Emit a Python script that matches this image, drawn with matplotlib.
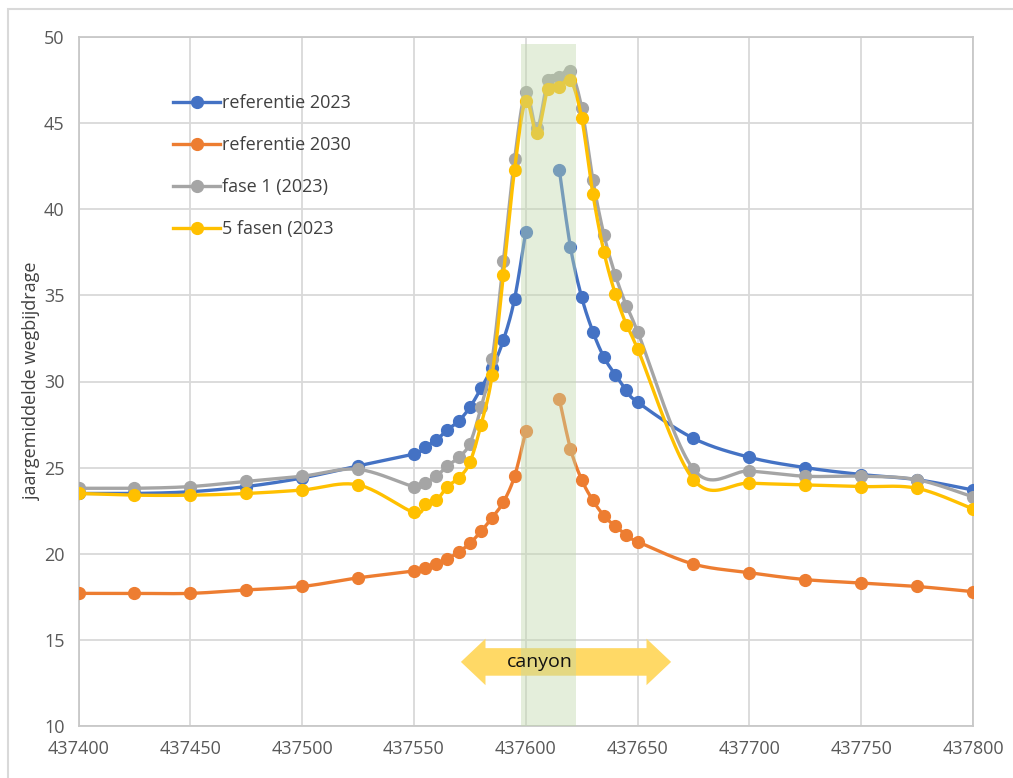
import numpy as np
import matplotlib
matplotlib.use("Agg")
import matplotlib.pyplot as plt
from matplotlib.lines import Line2D
from matplotlib.patches import Polygon, Rectangle

nan = np.nan

x = [437400, 437425, 437450, 437475, 437500, 437525, 437550, 437555, 437560, 437565,
     437570, 437575, 437580, 437585, 437590, 437595, 437600, 437605, 437610, 437615,
     437620, 437625, 437630, 437635, 437640, 437645, 437650, 437675, 437700, 437725,
     437750, 437775, 437800]

ref_2023 = [23.5, 23.5, 23.6, 23.9, 24.4, 25.1, 25.8, 26.2, 26.6, 27.2,
            27.7, 28.5, 29.6, 30.8, 32.4, 34.8, 38.7, nan, nan, 42.3,
            37.8, 34.9, 32.9, 31.4, 30.4, 29.5, 28.8, 26.7, 25.6, 25.0,
            24.6, 24.3, 23.7]
ref_2030 = [17.7, 17.7, 17.7, 17.9, 18.1, 18.6, 19.0, 19.2, 19.4, 19.7,
            20.1, 20.6, 21.3, 22.1, 23.0, 24.5, 27.1, nan, nan, 29.0,
            26.1, 24.3, 23.1, 22.2, 21.6, 21.1, 20.7, 19.4, 18.9, 18.5,
            18.3, 18.1, 17.8]
fase1 = [23.8, 23.8, 23.9, 24.2, 24.5, 24.9, 23.9, 24.1, 24.5, 25.1,
         25.6, 26.4, 28.5, 31.3, 37.0, 42.9, 46.8, 44.7, 47.5, 47.7,
         48.0, 45.9, 41.7, 38.5, 36.2, 34.4, 32.9, 24.9, 24.8, 24.5,
         24.5, 24.3, 23.3]
fasen5 = [23.5, 23.4, 23.4, 23.5, 23.7, 24.0, 22.4, 22.9, 23.1, 23.9,
          24.4, 25.3, 27.5, 30.4, 36.2, 42.3, 46.3, 44.4, 47.0, 47.1,
          47.5, 45.3, 40.9, 37.5, 35.1, 33.3, 31.9, 24.3, 24.1, 24.0,
          23.9, 23.8, 22.6]

labels = ["referentie 2023", "referentie 2030", "fase 1 (2023)", "5 fasen (2023"]
colors = ["#4472C4", "#ED7D31", "#A5A5A5", "#FFC000"]
series = [ref_2023, ref_2030, fase1, fasen5]

canyon = (437598, 437622.5)


def smooth_path(xs, ys, steps=24):
    # Excel-style smoothed line (Catmull-Rom as cubic Bezier)
    px, py = [], []
    n = len(xs)
    for i in range(n - 1):
        x0, y0 = xs[i], ys[i]
        x3, y3 = xs[i + 1], ys[i + 1]
        xa, ya = (xs[i - 1], ys[i - 1]) if i > 0 else (x0, y0)
        xb, yb = (xs[i + 2], ys[i + 2]) if i + 2 < n else (x3, y3)
        x1, y1 = x0 + (x3 - xa) / 6, y0 + (y3 - ya) / 6
        x2, y2 = x3 - (xb - x0) / 6, y3 - (yb - y0) / 6
        t = np.linspace(0, 1, steps)
        px.extend((1 - t) ** 3 * x0 + 3 * (1 - t) ** 2 * t * x1 + 3 * (1 - t) * t ** 2 * x2 + t ** 3 * x3)
        py.extend((1 - t) ** 3 * y0 + 3 * (1 - t) ** 2 * t * y1 + 3 * (1 - t) * t ** 2 * y2 + t ** 3 * y3)
    return px, py


plt.rcParams["font.family"] = ["Open Sans", "DejaVu Sans"]

fig = plt.figure(figsize=(10.13, 7.78), dpi=100)
fig.patches.append(Rectangle((8 / 1013, -0.1), 1.2, 1.1 - 9 / 778, transform=fig.transFigure,
                             fill=False, edgecolor="#d9d9d9", linewidth=1.5))
ax = fig.add_axes([78.5 / 1013, 1 - 726 / 778, (973 - 78.5) / 1013, (726 - 37) / 778])

xa = np.array(x, dtype=float)
for vals, col in zip(series, colors):
    ya = np.array(vals, dtype=float)
    ok = ~np.isnan(ya)
    # split into runs without gaps
    idx = np.where(ok)[0]
    runs = np.split(idx, np.where(np.diff(idx) > 1)[0] + 1)
    for r in runs:
        sx, sy = smooth_path(xa[r], ya[r])
        ax.plot(sx, sy, color=col, linewidth=2.4, solid_capstyle="round", zorder=3)
    ax.plot(xa[ok], ya[ok], "o", color=col, markersize=8.5, zorder=3)

ax.axvspan(canyon[0], canyon[1], ymin=0, ymax=(49.6 - 10) / 40,
           facecolor="#c0d8aa", alpha=0.42, edgecolor="none", zorder=5)

# canyon arrow
cx, cy = 437618, 13.72
half, body, head, hlen = 47, 0.8, 1.35, 11
arrow = Polygon([
    (cx - half, cy), (cx - half + hlen, cy + head), (cx - half + hlen, cy + body),
    (cx + half - hlen, cy + body), (cx + half - hlen, cy + head), (cx + half, cy),
    (cx + half - hlen, cy - head), (cx + half - hlen, cy - body),
    (cx - half + hlen, cy - body), (cx - half + hlen, cy - head)],
    closed=True, facecolor="#FFD966", edgecolor="none", zorder=4)
ax.add_patch(arrow)
ax.text(437606.5, cy, "canyon", ha="center", va="center", fontsize=14, color="#111111", zorder=6)

ax.set_xlim(437400, 437800)
ax.set_ylim(10, 50)
ax.set_xticks(np.arange(437400, 437801, 50))
ax.set_yticks(np.arange(10, 51, 5))
ax.grid(True, color="#d9d9d9", linewidth=1.3)
ax.set_axisbelow(True)
for s in ax.spines.values():
    s.set_color("#c8c8c8")
    s.set_linewidth(1.3)
ax.tick_params(length=0, labelsize=13, labelcolor="#595959", pad=10)
ax.set_ylabel("jaargemiddelde wegbijdrage", fontsize=13, color="#404040", labelpad=2)

handles = [Line2D([], [], color=c, linewidth=2.4, marker="o", markersize=8.5) for c in colors]
ax.legend(handles, labels, loc="upper left", bbox_to_anchor=(157 / 1013, 1 - 78 / 778),
          bbox_transform=fig.transFigure, frameon=False, fontsize=13, labelspacing=1.33,
          handlelength=2.6, handletextpad=0.1, labelcolor="#404040")

fig.savefig("out.png", dpi=100)
